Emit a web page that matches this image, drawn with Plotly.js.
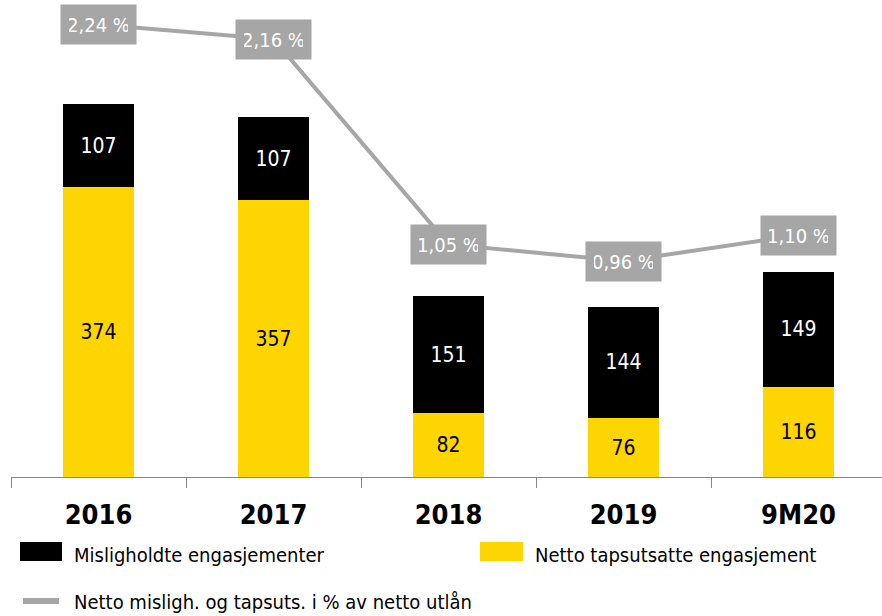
<!DOCTYPE html>
<html>
<head>
<meta charset="utf-8">
<script src="https://cdn.plot.ly/plotly-3.0.1.min.js"></script>
<style>html,body{margin:0;padding:0;background:#fff;}#chart{width:882px;height:616px;}</style>
</head>
<body>
<div id="chart"></div>
<script>
const categories = ['2016', '2017', '2018', '2019', '9M20'];
const nettoTapsutsatte = [374, 357, 82, 76, 116];
const misligholdte = [107, 107, 151, 144, 149];
const pctValues = [2.24, 2.16, 1.05, 0.96, 1.10];
const legendNames = ['Misligholdte engasjementer', 'Netto tapsutsatte engasjement', 'Netto misligh. og tapsuts. i % av netto utlån'];

const NARROW = 'DejaVu Sans Condensed, Liberation Sans Narrow, Arial Narrow, sans-serif';
const YELLOW = '#FFD500';
const GREY = '#A6A6A6';

const W = 882, H = 616, ML = 11, MR = 0, MT = 10, MB = 139;
const PW = W - ML - MR, PH = H - MT - MB;
const px = x => (x - ML) / PW;
const py = y => (H - MB - y) / PH;

const traces = [
  {
    type: 'bar', x: categories, y: nettoTapsutsatte, name: legendNames[1],
    marker: {color: YELLOW}, width: 0.41,
    texttemplate: '%{y}', textposition: 'inside', insidetextanchor: 'middle', textangle: 0,
    textfont: {family: NARROW, size: 21, color: '#000'}, hoverinfo: 'skip'
  },
  {
    type: 'bar', x: categories, y: misligholdte, name: legendNames[0],
    marker: {color: '#000'}, width: 0.41,
    texttemplate: '%{y}', textposition: 'inside', insidetextanchor: 'middle', textangle: 0,
    textfont: {family: NARROW, size: 21, color: '#fff'}, hoverinfo: 'skip'
  },
  {
    type: 'scatter', mode: 'lines', x: categories, y: pctValues, yaxis: 'y2', name: legendNames[2],
    line: {color: GREY, width: 4}, hoverinfo: 'skip'
  }
];

const annotations = categories.map((c, i) => ({
  x: i, y: pctValues[i], xref: 'x', yref: 'y2',
  text: pctValues[i].toFixed(2).replace('.', ',') + ' %',
  showarrow: false, bgcolor: GREY, borderpad: 8, width: 59, height: 23,
  font: {family: NARROW, size: 20, color: '#fff'}
}));

// Legend (manual)
const shapes = [
  {type: 'rect', xref: 'paper', yref: 'paper', x0: px(20), x1: px(62), y0: py(561), y1: py(542), fillcolor: '#000', line: {width: 0}},
  {type: 'rect', xref: 'paper', yref: 'paper', x0: px(480), x1: px(523), y0: py(561), y1: py(542), fillcolor: YELLOW, line: {width: 0}},
  {type: 'line', xref: 'paper', yref: 'paper', x0: px(23), x1: px(59), y0: py(601), y1: py(601), line: {color: GREY, width: 6, cap: 'round'}}
];
const legendPos = [[72, 555], [533, 555], [72, 602]];
legendNames.forEach((n, i) => {
  annotations.push({
    xref: 'paper', yref: 'paper', x: px(legendPos[i][0]), y: py(legendPos[i][1]),
    xanchor: 'left', yanchor: 'middle', text: n, showarrow: false,
    font: {family: NARROW, size: 20, color: '#000'}
  });
});

const layout = {
  width: W, height: H,
  margin: {l: ML, r: MR, t: MT, b: MB, pad: 0},
  paper_bgcolor: '#fff', plot_bgcolor: '#fff',
  barmode: 'stack', showlegend: false,
  xaxis: {
    type: 'category', range: [-0.5, 4.477], tickson: 'boundaries',
    ticks: 'outside', ticklen: 10, tickcolor: '#868686', tickwidth: 1,
    showline: true, linecolor: '#868686', linewidth: 1, showgrid: false, zeroline: false,
    ticklabelstandoff: 14,
    tickfont: {family: NARROW, size: 27, color: '#000', weight: 'bold'}
  },
  yaxis: {range: [0, 602.6], visible: false, showgrid: false, zeroline: false},
  yaxis2: {range: [-0.208, 2.318], overlaying: 'y', side: 'right', visible: false, showgrid: false, zeroline: false},
  annotations: annotations,
  shapes: shapes
};

Plotly.newPlot('chart', traces, layout, {displayModeBar: false, staticPlot: true});
</script>
</body>
</html>
